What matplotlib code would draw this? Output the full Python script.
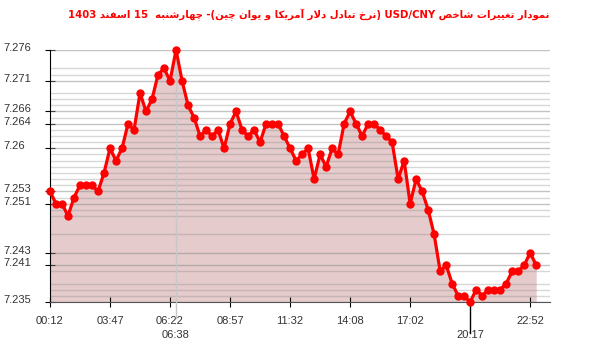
import re

import numpy as np
import matplotlib
matplotlib.use('Agg')
import matplotlib.pyplot as plt
import matplotlib.transforms as mtransforms

title = 'نمودار تغییرات شاخص USD/CNY (نرخ تبادل دلار آمریکا و یوان چین)- چهارشنبه  15 اسفند 1403'

# USD/CNY, one value per sample (index based x axis)
values = [7.253, 7.251, 7.251, 7.249, 7.252, 7.254, 7.254, 7.254, 7.253, 7.256,
          7.260, 7.258, 7.260, 7.264, 7.263, 7.269, 7.266, 7.268, 7.272, 7.273,
          7.271, 7.276, 7.271, 7.267, 7.265, 7.262, 7.263, 7.262, 7.263, 7.260,
          7.264, 7.266, 7.263, 7.262, 7.263, 7.261, 7.264, 7.264, 7.264, 7.262,
          7.260, 7.258, 7.259, 7.260, 7.255, 7.259, 7.257, 7.260, 7.259, 7.264,
          7.266, 7.264, 7.262, 7.264, 7.264, 7.263, 7.262, 7.261, 7.255, 7.258,
          7.251, 7.255, 7.253, 7.250, 7.246, 7.240, 7.241, 7.238, 7.236, 7.236,
          7.235, 7.237, 7.236, 7.237, 7.237, 7.237, 7.238, 7.240, 7.240, 7.241,
          7.243, 7.241]

x_tick_idx = [0, 10, 20, 30, 40, 50, 60, 80]
x_tick_labels = ['00:12', '03:47', '06:22', '08:57', '11:32', '14:08', '17:02', '22:52']
high_label = '06:38'
low_label = '20:17'

y_ticks = [7.276, 7.271, 7.266, 7.264, 7.26, 7.253, 7.251, 7.243, 7.241, 7.235]
y_tick_labels = ['7.276', '7.271', '7.266', '7.264', '7.26', '7.253', '7.251', '7.243', '7.241', '7.235']


# --- tiny persian shaper (matplotlib has no arabic shaping / bidi) ---
# isolated, final, initial, medial
FORMS = {
    'ا': ('\uFE8D', '\uFE8E', None, None),
    'آ': ('\uFE81', '\uFE82', None, None),
    'ب': ('\uFE8F', '\uFE90', '\uFE91', '\uFE92'),
    'ت': ('\uFE95', '\uFE96', '\uFE97', '\uFE98'),
    'خ': ('\uFEA5', '\uFEA6', '\uFEA7', '\uFEA8'),
    'د': ('\uFEA9', '\uFEAA', None, None),
    'ر': ('\uFEAD', '\uFEAE', None, None),
    'س': ('\uFEB1', '\uFEB2', '\uFEB3', '\uFEB4'),
    'ش': ('\uFEB5', '\uFEB6', '\uFEB7', '\uFEB8'),
    'ص': ('\uFEB9', '\uFEBA', '\uFEBB', '\uFEBC'),
    'غ': ('\uFECD', '\uFECE', '\uFECF', '\uFED0'),
    'ف': ('\uFED1', '\uFED2', '\uFED3', '\uFED4'),
    'ل': ('\uFEDD', '\uFEDE', '\uFEDF', '\uFEE0'),
    'م': ('\uFEE1', '\uFEE2', '\uFEE3', '\uFEE4'),
    'ن': ('\uFEE5', '\uFEE6', '\uFEE7', '\uFEE8'),
    'ه': ('\uFEE9', '\uFEEA', '\uFEEB', '\uFEEC'),
    'و': ('\uFEED', '\uFEEE', None, None),
    'ی': ('\uFBFC', '\uFBFD', '\uFBFE', '\uFBFF'),
    'ک': ('\uFB8E', '\uFB8F', '\uFB90', '\uFB91'),
    'چ': ('\uFB7A', '\uFB7B', '\uFB7C', '\uFB7D'),
}


def shape(s):
    out = []
    i = 0
    while i < len(s):
        c = s[i]
        if c not in FORMS:
            out.append(c)
            i += 1
            continue
        prev = s[i - 1] if i > 0 else ''
        join_prev = prev in FORMS and FORMS[prev][2] is not None
        if c == 'ل' and i + 1 < len(s) and s[i + 1] == 'ا':
            out.append('\uFEFC' if join_prev else '\uFEFB')
            i += 2
            continue
        nxt = s[i + 1] if i + 1 < len(s) else ''
        join_next = nxt in FORMS and FORMS[c][2] is not None
        f = FORMS[c]
        if join_prev and join_next:
            out.append(f[3])
        elif join_prev:
            out.append(f[1])
        elif join_next:
            out.append(f[2])
        else:
            out.append(f[0])
        i += 1
    return ''.join(out)


def visual(s):
    s = shape(s)
    runs = re.findall(r'[A-Za-z0-9/.]+|[^A-Za-z0-9/.]+', s)
    mirror = {'(': ')', ')': '('}
    vis = []
    for r in reversed(runs):
        if re.match(r'[A-Za-z0-9/.]', r):
            vis.append(r)
        else:
            vis.append(''.join(mirror.get(ch, ch) for ch in reversed(r)))
    return ''.join(vis)


fig = plt.figure(figsize=(6, 3.52), dpi=100)
ax = fig.add_axes([50 / 600, 50 / 352, 500 / 600, 252 / 352])

idx = np.arange(len(values))
vals = np.array(values)
ybot = 7.235
ax.set_xlim(0, 83.3)
ax.set_ylim(ybot, 7.276)

ax.fill_between(idx, vals, ybot, color='#e5cbcb', lw=0, zorder=1)

# horizontal grid at every value that occurs in the series
for v in np.unique(vals):
    dark = any(abs(v - t) < 1e-9 for t in y_ticks)
    ax.axhline(v, color='#888888', alpha=0.5 if dark else 0.33, lw=1, zorder=2)

ax.plot(idx, vals, color='#ff0000', lw=2.3, marker='o', ms=5, zorder=5, clip_on=False)

i_hi = int(np.argmax(vals))
i_lo = int(np.argmin(vals))
blend = mtransforms.blended_transform_factory(ax.transData, ax.transAxes)
ax.plot([i_hi, i_hi], [-0.062, 1], color='#c8c8c8', lw=1, transform=blend, clip_on=False, zorder=3)
ax.plot([i_lo, i_lo], [-0.123, 0], color='black', lw=1, transform=blend, clip_on=False, zorder=3)

for sp in ['top', 'right']:
    ax.spines[sp].set_visible(False)
ax.spines['left'].set_color('black')
ax.spines['bottom'].set_color('#555555')

ax.set_xticks(x_tick_idx)
ax.set_xticklabels(x_tick_labels, fontsize=8, family='Liberation Sans', color='#333333')
ax.set_xticks([i_hi, i_lo], minor=True)
ax.set_xticklabels([high_label, low_label], minor=True, fontsize=8,
                   family='Liberation Sans', color='#333333')
ax.tick_params(axis='x', which='major', direction='inout', length=7, pad=6.5, color='black')
ax.tick_params(axis='x', which='minor', length=0, pad=20)

ax.set_yticks(y_ticks)
ax.set_yticklabels(y_tick_labels, fontsize=8, family='Liberation Sans', color='#333333')
ax.tick_params(axis='y', direction='inout', length=7, pad=30.3, color='black')
shift = mtransforms.ScaledTranslation(0, 3 / 100, fig.dpi_scale_trans)
for lab in ax.get_yticklabels():
    lab.set_horizontalalignment('left')
    lab.set_transform(lab.get_transform() + shift)

fig.text(309 / 600, 1 - 15 / 352, visual(title), color='#ff0000', fontsize=7.3,
         fontweight='bold', family='DejaVu Sans', ha='center', va='center')

fig.savefig('out.png', dpi=100)
